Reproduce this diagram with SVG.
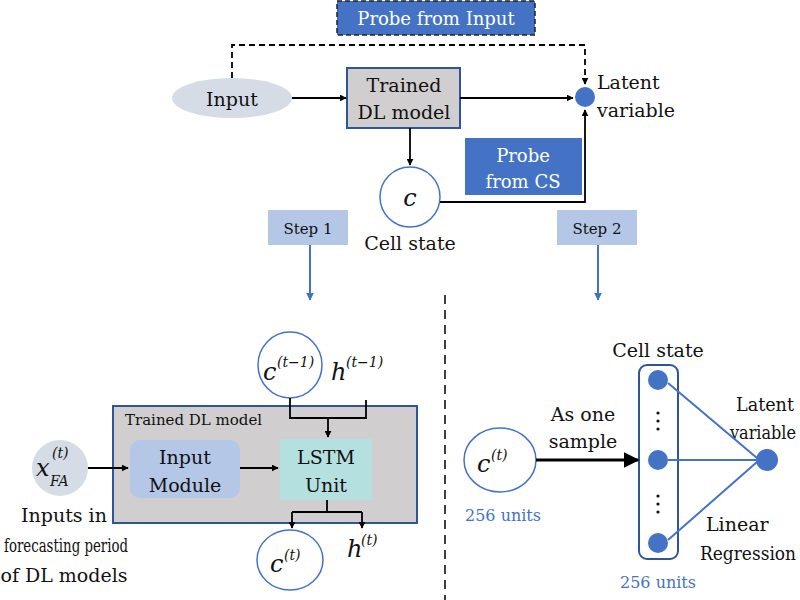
<svg xmlns="http://www.w3.org/2000/svg" width="800" height="600" viewBox="0 0 800 600">
<defs>
<marker id="a" viewBox="0 0 10 10" refX="9" refY="5" markerWidth="7" markerHeight="7" orient="auto" markerUnits="userSpaceOnUse"><path d="M0,0L10,5L0,10z" fill="#000"/></marker>
<marker id="b" viewBox="0 0 10 10" refX="9" refY="5" markerWidth="8" markerHeight="8" orient="auto" markerUnits="userSpaceOnUse"><path d="M0,0L10,5L0,10z" fill="#4472C4"/></marker>
<marker id="c" viewBox="0 0 10 10" refX="9" refY="5" markerWidth="16" markerHeight="16" orient="auto" markerUnits="userSpaceOnUse"><path d="M0,0L10,5L0,10z" fill="#000"/></marker>
</defs>
<style>
text{font-family:"DejaVu Serif","Liberation Serif",serif;fill:#111}
.t{font-size:19px}
.w{fill:#fff;font-size:18px}
.m{font-style:italic;font-size:24px}
.s{font-style:italic;font-size:14px}
.bl{fill:#4472C4;font-size:16px}
.ln{stroke:#000;stroke-width:1.8;fill:none}
.bln{stroke:#4472C4;stroke-width:2;fill:none}
</style>
<line x1="445" y1="295" x2="445" y2="600" stroke="#000" stroke-width="1.5" stroke-dasharray="9,6"/>
<g id="probe-input"><rect x="337" y="1" width="198" height="34" fill="#4472C4" stroke="#222" stroke-dasharray="5,3" stroke-width="1.5"/><text class="w" x="436" y="25" text-anchor="middle">Probe from Input</text></g>
<g id="input"><ellipse cx="232" cy="98" rx="60" ry="20" fill="#d6dce5"/><text class="t" x="232" y="106" text-anchor="middle">Input</text></g>
<g id="model"><rect x="347" y="68" width="113" height="60" fill="#d0cece" stroke="#2f5597" stroke-width="2"/><text class="t" x="404" y="92" text-anchor="middle">Trained</text><text class="t" x="404" y="119" text-anchor="middle">DL model</text></g>
<g id="latent-top"><circle cx="585" cy="97" r="10" fill="#4472C4"/><text class="t" x="597" y="89">Latent</text><text class="t" x="597" y="117">variable</text></g>
<g id="cs-top"><circle cx="410" cy="197" r="30" fill="#fff" stroke="#4472C4" stroke-width="1.5"/><text class="m" x="410" y="206" text-anchor="middle" font-size="28">c</text><text class="t" x="410" y="250" text-anchor="middle">Cell state</text></g>
<g id="probe-cs"><rect x="465" y="138" width="117" height="57" fill="#4472C4"/><text class="w" x="523" y="162" text-anchor="middle">Probe</text><text class="w" x="523" y="188" text-anchor="middle">from CS</text></g>
<g id="step1"><rect x="268" y="210" width="80" height="35" fill="#b4c7e7"/><text x="308" y="234" text-anchor="middle" font-size="15">Step 1</text></g>
<g id="step2"><rect x="557" y="210" width="80" height="35" fill="#b4c7e7"/><text x="597" y="234" text-anchor="middle" font-size="15">Step 2</text></g>
<g id="c-prev"><ellipse cx="290" cy="365" rx="32" ry="33" fill="#fff" stroke="#4472C4" stroke-width="1.5"/><text class="m" x="263" y="380">c</text><text class="s" x="277" y="367">(t−1)</text><text class="m" x="331" y="380">h</text><text class="s" x="346" y="367">(t−1)</text></g>
<g id="model-box"><rect x="113" y="406" width="304" height="117" fill="#d0cece" stroke="#2f5597" stroke-width="2"/><text x="125" y="425" font-size="15">Trained DL model</text></g>
<g id="input-module"><rect x="130" y="440" width="110" height="58" rx="10" fill="#b4c7e7"/><text class="t" x="185" y="464" text-anchor="middle">Input</text><text class="t" x="185" y="492" text-anchor="middle">Module</text></g>
<g id="lstm"><rect x="280" y="439" width="92" height="61" fill="#b4e0e0"/><text class="t" x="326" y="464" text-anchor="middle">LSTM</text><text class="t" x="326" y="492" text-anchor="middle">Unit</text></g>
<g id="xfa"><circle cx="60" cy="468" r="28" fill="#d6dce5"/><text class="m" x="36" y="476">x</text><text class="s" x="52" y="458">(t)</text><text class="s" x="50" y="486">FA</text>
<text class="t" x="64" y="522" text-anchor="middle">Inputs in</text><text class="t" x="66" y="552" text-anchor="middle" font-size="17" textLength="124" lengthAdjust="spacingAndGlyphs">forecasting period</text><text class="t" x="64" y="582" text-anchor="middle">of DL models</text></g>
<g id="c-t"><ellipse cx="290" cy="560" rx="33" ry="30" fill="#fff" stroke="#4472C4" stroke-width="1.5"/><text class="m" x="270" y="572">c</text><text class="s" x="284" y="560">(t)</text><text class="m" x="347" y="557">h</text><text class="s" x="361" y="545">(t)</text></g>
<g id="c-right"><ellipse cx="500" cy="460" rx="36" ry="32" fill="#fff" stroke="#4472C4" stroke-width="1.5"/><text class="m" x="477" y="472">c</text><text class="s" x="491" y="460">(t)</text><text class="bl" x="503" y="521" text-anchor="middle">256 units</text></g>
<text class="t" x="583" y="421" text-anchor="middle">As one</text><text class="t" x="583" y="448" text-anchor="middle">sample</text>
<g id="cell-col"><rect x="639" y="365" width="39" height="194" rx="8" fill="none" stroke="#2f5597" stroke-width="2"/>
<circle cx="658" cy="380" r="10" fill="#4472C4"/><circle cx="658" cy="460" r="10" fill="#4472C4"/><circle cx="658" cy="543" r="10" fill="#4472C4"/>
<g fill="#111"><circle cx="658" cy="413" r="1.6"/><circle cx="658" cy="421" r="1.6"/><circle cx="658" cy="429" r="1.6"/><circle cx="658" cy="496" r="1.6"/><circle cx="658" cy="504" r="1.6"/><circle cx="658" cy="512" r="1.6"/></g>
<text class="t" x="658" y="357" text-anchor="middle">Cell state</text><text class="bl" x="658" y="588" text-anchor="middle">256 units</text></g>
<g id="latent-right"><circle cx="767" cy="460" r="11" fill="#4472C4"/><text class="t" x="736" y="411" font-size="17" textLength="58" lengthAdjust="spacingAndGlyphs">Latent</text><text class="t" x="730" y="439" font-size="17" textLength="66" lengthAdjust="spacingAndGlyphs">variable</text></g>
<text class="t" x="706" y="531" font-size="17">Linear</text><text class="t" x="700" y="560" font-size="17" textLength="96" lengthAdjust="spacingAndGlyphs">Regression</text>
<g id="connectors">
<path class="ln" d="M232,78V45H585V84" stroke-dasharray="6,4" marker-end="url(#a)"/>
<path class="ln" d="M292,98H346" marker-end="url(#a)"/>
<path class="ln" d="M460,98H573" marker-end="url(#a)"/>
<path class="ln" d="M410,128V165" marker-end="url(#a)"/>
<path class="ln" d="M440,202H585V110" marker-end="url(#a)"/>
<path class="bln" d="M310,245V300" marker-end="url(#b)"/>
<path class="bln" d="M598,245V300" marker-end="url(#b)"/>
<path class="ln" d="M290,398V418H366V400"/>
<path class="ln" d="M328,418V437" marker-end="url(#a)"/>
<path class="ln" d="M88,468H128" marker-end="url(#a)"/>
<path class="ln" d="M240,468H278" marker-end="url(#a)"/>
<path class="ln" d="M327,500V512M292,512H362"/>
<path class="ln" d="M292,512V528" marker-end="url(#a)"/>
<path class="ln" d="M362,512V528" marker-end="url(#a)"/>
<path d="M536,460H638" stroke="#000" stroke-width="3" marker-end="url(#c)"/>
<path class="bln" d="M668,383L757,458M668,460H756M668,540L757,462"/>
</g>
</svg>
